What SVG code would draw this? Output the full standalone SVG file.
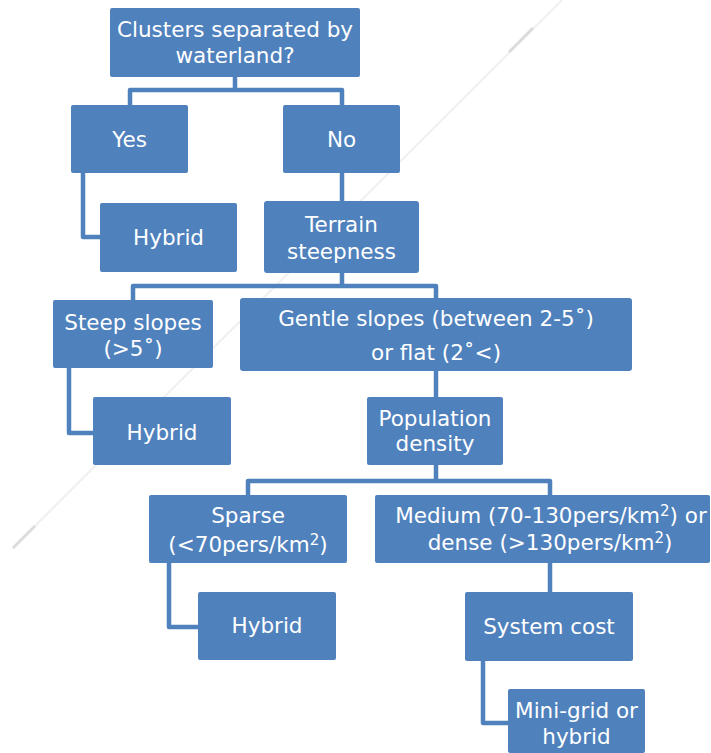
<svg xmlns="http://www.w3.org/2000/svg" width="711" height="753" viewBox="0 0 711 753">
  <style>
    .box { fill: #4f81bd; }
    .lbl { fill: #ffffff; font-family: "DejaVu Sans", Verdana, sans-serif; font-size: 21.5px; text-anchor: middle; }
    .conn { fill: none; stroke: #4f81bd; stroke-width: 4.5; stroke-linejoin: round; stroke-linecap: butt; }
    .sup { font-size: 15px; }
  </style>

  <!-- faint diagonal rule behind the chart -->
  <g id="backdrop">
    <line x1="562" y1="0" x2="13" y2="548" stroke="#efefef" stroke-width="2"/>
    <line x1="509" y1="52" x2="533" y2="28" stroke="#dcdcdc" stroke-width="3"/>
    <line x1="13" y1="548" x2="35" y2="526" stroke="#dcdcdc" stroke-width="3"/>
  </g>

  <g id="connectors">
    <path class="conn" d="M235 77 V90 M130 105 V90 H342 V105"/>
    <path class="conn" d="M83 173 V237 H100"/>
    <path class="conn" d="M342 173 V201"/>
    <path class="conn" d="M342 273 V286 M133 300 V286 H436 V298"/>
    <path class="conn" d="M69 368 V433 H93"/>
    <path class="conn" d="M436 371 V397"/>
    <path class="conn" d="M436 465 V481 M248 495 V481 H550 V495"/>
    <path class="conn" d="M169 563 V627 H198"/>
    <path class="conn" d="M550 563 V592"/>
    <path class="conn" d="M483 661 V723 H508"/>
  </g>

  <g id="n-clusters">
    <rect class="box" x="110" y="8" width="250" height="69" rx="2"/>
    <text class="lbl" x="235" y="37">Clusters separated by</text>
    <text class="lbl" x="235" y="63">waterland?</text>
  </g>
  <g id="n-yes">
    <rect class="box" x="71" y="105" width="117" height="68" rx="2"/>
    <text class="lbl" x="129.5" y="147">Yes</text>
  </g>
  <g id="n-no">
    <rect class="box" x="283" y="105" width="117" height="68" rx="2"/>
    <text class="lbl" x="341.5" y="147">No</text>
  </g>
  <g id="n-hybrid1">
    <rect class="box" x="100" y="203" width="137" height="69" rx="2"/>
    <text class="lbl" x="168.5" y="245">Hybrid</text>
  </g>
  <g id="n-terrain">
    <rect class="box" x="264" y="201" width="155" height="72" rx="3"/>
    <text class="lbl" x="341.5" y="232">Terrain</text>
    <text class="lbl" x="341.5" y="259">steepness</text>
  </g>
  <g id="n-steep">
    <rect class="box" x="53" y="300" width="160" height="68" rx="2"/>
    <text class="lbl" x="133" y="330">Steep slopes</text>
    <text class="lbl" x="133" y="356">(&gt;5˚)</text>
  </g>
  <g id="n-gentle">
    <rect class="box" x="240" y="298" width="392" height="73" rx="3"/>
    <text class="lbl" x="436" y="326">Gentle slopes (between 2-5˚)</text>
    <text class="lbl" x="436" y="360">or flat (2˚&lt;)</text>
  </g>
  <g id="n-hybrid2">
    <rect class="box" x="93" y="397" width="138" height="68" rx="2"/>
    <text class="lbl" x="162" y="440">Hybrid</text>
  </g>
  <g id="n-population">
    <rect class="box" x="367" y="397" width="136" height="68" rx="2"/>
    <text class="lbl" x="435" y="426">Population</text>
    <text class="lbl" x="435" y="451">density</text>
  </g>
  <g id="n-sparse">
    <rect class="box" x="149" y="495" width="198" height="68" rx="2"/>
    <text class="lbl" x="248" y="523">Sparse</text>
    <text class="lbl" x="248" y="552">(&lt;70pers/km<tspan class="sup" dy="-7">2</tspan><tspan dy="7">)</tspan></text>
  </g>
  <g id="n-medium">
    <rect class="box" x="375" y="495" width="335" height="68" rx="2"/>
    <text class="lbl" x="551" y="523">Medium (70-130pers/km<tspan class="sup" dy="-7">2</tspan><tspan dy="7">) or</tspan></text>
    <text class="lbl" x="550" y="550">dense (&gt;130pers/km<tspan class="sup" dy="-7">2</tspan><tspan dy="7">)</tspan></text>
  </g>
  <g id="n-hybrid3">
    <rect class="box" x="198" y="592" width="138" height="68" rx="2"/>
    <text class="lbl" x="267" y="633">Hybrid</text>
  </g>
  <g id="n-systemcost">
    <rect class="box" x="465" y="592" width="168" height="69" rx="2"/>
    <text class="lbl" x="549" y="634">System cost</text>
  </g>
  <g id="n-minigrid">
    <rect class="box" x="508" y="689" width="137" height="64" rx="2"/>
    <text class="lbl" x="576.5" y="718">Mini-grid or</text>
    <text class="lbl" x="576.5" y="744">hybrid</text>
  </g>
</svg>
